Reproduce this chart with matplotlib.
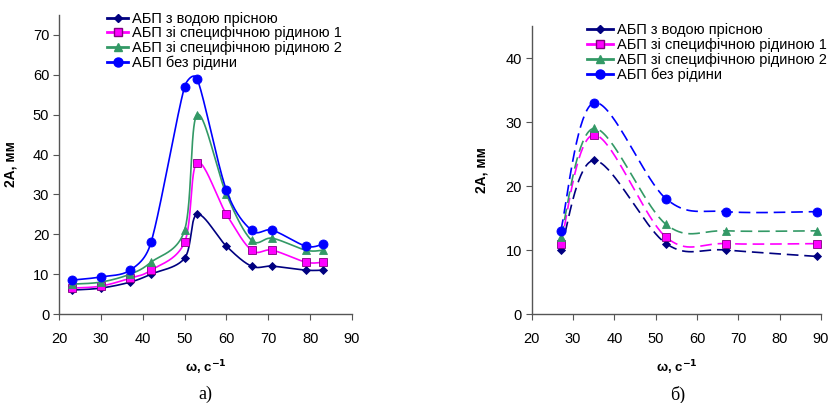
import numpy as np
import matplotlib.pyplot as plt

plt.rcParams['font.family'] = ['Liberation Sans', 'DejaVu Sans']

# panel a)
omega_a = [23, 30, 37, 42, 50, 53, 60, 66, 71, 79, 83]
water_a = [6, 6.5, 8, 10, 14, 25, 17, 12, 12, 11, 11]
liquid1_a = [6.5, 7, 9, 11, 18, 38, 25, 16, 16, 13, 13]
liquid2_a = [7.5, 8, 10, 13, 21, 50, 30, 18.5, 19, 16, 16]
dry_a = [8.5, 9.3, 11, 18, 57, 59, 31, 21, 21, 17, 17.5]

# panel б)
omega_b = [27, 35, 52.5, 67, 89]
water_b = [10, 24, 11, 10, 9]
liquid1_b = [11, 28, 12, 11, 11]
liquid2_b = [12, 29, 14, 13, 13]
dry_b = [13, 33, 18, 16, 16]

labels = ['АБП з водою прісною', 'АБП зі специфічною рідиною 1',
          'АБП зі специфічною рідиною 2', 'АБП без рідини']
colors = ['#000080', '#FF00FF', '#339966', '#0000FF']
markers = ['D', 's', '^', 'o']
msizes = [4.5, 6, 6, 6.5]


def clamp(v, lim):
    n = np.hypot(*v)
    return v * (lim / n) if n > lim else v


def smooth(x, y, sx, sy, n=40):
    # Excel-like smoothed line, computed in pixel-scaled space
    p = np.column_stack([np.array(x) * sx, np.array(y) * sy]).astype(float)
    out = []
    t = np.linspace(0, 1, n)[:, None]
    m = len(p)
    for i in range(m - 1):
        p0 = p[max(i - 1, 0)]
        p1, p2 = p[i], p[i + 1]
        p3 = p[min(i + 2, m - 1)]
        d12 = np.hypot(*(p2 - p1))
        c1 = p1 + clamp((p2 - p0) / 6, 0.5 * d12)
        c2 = p2 - clamp((p3 - p1) / 6, 0.5 * d12)
        seg = ((1 - t) ** 3) * p1 + 3 * ((1 - t) ** 2) * t * c1 + 3 * (1 - t) * t ** 2 * c2 + t ** 3 * p2
        out.append(seg)
    out = np.vstack(out)
    return out[:, 0] / sx, out[:, 1] / sy


def panel(ax, x, series, ls, ylim, yticks, sx, sy):
    dash = (7, 3.5)
    for y, lab, c, m, ms in zip(series, labels, colors, markers, msizes):
        cx, cy = smooth(x, y, sx, sy)
        if ls == '--':
            ax.plot(cx, cy, color=c, lw=1.2, ls='--', dashes=dash)
        else:
            ax.plot(cx, cy, color=c, lw=1.2)
        mec = '#800080' if m == 's' else c
        ax.plot(x, y, ls='none', marker=m, color=c, ms=ms, mec=mec, mew=0.6)
        ax.plot([], [], color=c, marker=m, ms=ms, mec=mec, ls='-', lw=2, label=lab)
    ax.set_xlim(20, 90)
    ax.set_ylim(*ylim)
    ax.set_xticks(range(20, 91, 10))
    ax.set_yticks(yticks)
    for s in ['top', 'right']:
        ax.spines[s].set_visible(False)
    for s in ['left', 'bottom']:
        ax.spines[s].set_color('#555555')
        ax.spines[s].set_linewidth(1.0)
    ax.tick_params(direction='out', length=4, color='#555555', labelsize=10.5, pad=3)
    ax.tick_params(axis='x', pad=9)
    ax.set_ylabel('2А, мм', fontsize=10, fontweight='bold')
    ax.set_xlabel(r'ω, с$^{\mathbf{-1}}$', fontsize=9.5, fontweight='bold', labelpad=9)


fig = plt.figure(figsize=(8.31, 4.03), dpi=100)
ax1 = fig.add_axes([0.071, 0.2208, 0.3526, 0.742])
ax2 = fig.add_axes([0.64, 0.2208, 0.348, 0.7146])

panel(ax1, omega_a, [water_a, liquid1_a, liquid2_a, dry_a], '-', (0, 75), range(0, 71, 10), 4.19, 3.99)
panel(ax2, omega_b, [water_b, liquid1_b, liquid2_b, dry_b], '--', (0, 45), range(0, 41, 10), 4.13, 6.4)

ax1.legend(loc='upper left', bbox_to_anchor=(0.13, 1.045), frameon=False, fontsize=10.5,
           handlelength=1.4, handletextpad=0.3, labelspacing=0.05, borderpad=0.2)
ax2.legend(loc='upper left', bbox_to_anchor=(0.155, 1.045), frameon=False, fontsize=10.5,
           handlelength=1.8, handletextpad=0.3, labelspacing=0.05, borderpad=0.2)

ax1.yaxis.set_label_coords(-0.14, 0.5)
ax2.yaxis.set_label_coords(-0.15, 0.5)

fig.text(0.247, 0.021, 'а)', fontsize=13, family='Liberation Serif', ha='center', va='center')
fig.text(0.816, 0.021, 'б)', fontsize=13, family='Liberation Serif', ha='center', va='center')

fig.savefig('out.png', dpi=100)
